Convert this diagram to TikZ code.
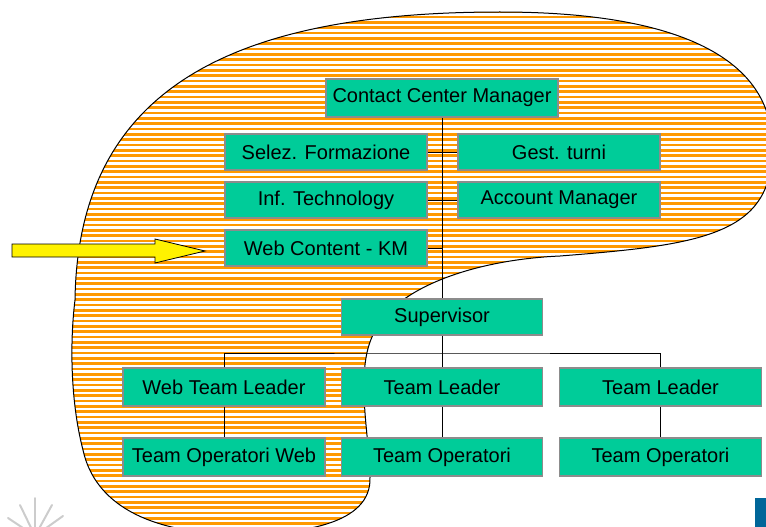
\documentclass[tikz,border=0pt]{standalone}
\usepackage{fontspec}
\setmainfont{Liberation Sans}
\definecolor{boxgreen}{RGB}{0,204,153}
\definecolor{boxgray}{RGB}{140,140,140}
\definecolor{stripe}{RGB}{255,153,0}
\definecolor{logoblue}{RGB}{0,102,153}
\tikzset{
  orgbox/.style={draw=boxgray, line width=1.5pt, fill=boxgreen, inner sep=0pt,
    minimum width=202pt, minimum height=36pt, font=\fontsize{20}{24}\selectfont, text=black},
  tallbox/.style={orgbox, minimum height=38pt},
  link/.style={draw=black, line width=1pt},
}
\begin{document}
\begin{tikzpicture}[x=1pt,y=-1pt]
\useasboundingbox (0,0) rectangle (766,527);
% blob
\def\blob{(75,300) .. controls (78,90) and (230,12) .. (500,12)
  .. controls (700,12) and (775,70) .. (772,150)
  .. controls (772,235) and (700,245) .. (560,256)
  .. controls (470,260) and (390,290) .. (372,337)
  .. controls (355,375) and (370,440) .. (370,477)
  .. controls (372,525) and (300,535) .. (230,534)
  .. controls (150,532) and (95,505) .. (83,450)
  .. controls (70,400) and (70,340) .. (75,300) -- cycle}
\begin{scope}
  \clip \blob;
  \foreach \k in {0,...,102} {
    \draw[stripe, line width=2.6pt] (60,{1+\k*5.3333}) -- (780,{1+\k*5.3333});
  }
\end{scope}
\draw[black, line width=1pt] \blob;
% boxes
\node[orgbox, tallbox, minimum width=232pt] (ccm) at (442,98) {Contact Center Manager};
\node[orgbox] (selez) at (326,152) {Selez. Formazione};
\node[orgbox] (gest) at (559,152) {Gest. turni};
\node[orgbox] (inf) at (326,200) {Inf. Technology};
\node[orgbox] (acc) at (559,200) {Account Manager};
\node[orgbox] (web) at (326,248) {Web Content - KM};
\node[orgbox, minimum width=201pt] (sup) at (442,317) {Supervisor};
\node[tallbox] (tl1) at (224,387) {Web Team Leader};
\node[tallbox, minimum width=201pt] (tl2) at (442,387) {Team Leader};
\node[tallbox] (tl3) at (660.5,387) {Team Leader};
\node[tallbox] (op1) at (224,457) {Team Operatori Web};
\node[tallbox, minimum width=201pt] (op2) at (442,457) {Team Operatori};
\node[tallbox] (op3) at (660.5,457) {Team Operatori};
\coordinate (bus) at (442,353);
% connectors
\draw[link] (ccm.south) -- (sup.north);
\draw[link] (selez.east) -- (gest.west);
\draw[link] (inf.east) -- (acc.west);
\draw[link] (web.east) -- (web.east -| ccm.south);
\draw[link] (sup.south) -- (tl2.north);
\draw[link] (tl1.north) |- (bus) -| (tl3.north);
\draw[link] (tl1.south) -- (op1.north);
\draw[link] (tl2.south) -- (op2.north);
\draw[link] (tl3.south) -- (op3.north);
% arrow
\draw[fill=yellow, draw=black, line width=0.8pt]
  (12,244) -- (155,244) -- (155,239) -- (205,251) -- (155,263) -- (155,257) -- (12,257) -- cycle;
% corner decorations
\foreach \a/\b in {35/498, 8/518, 63/516, 20/505, 52/505} {
  \draw[gray!40, line width=2pt, line cap=round] (35,536) -- (\a,\b);
}
\fill[logoblue] (755,498) rectangle (766,527);
\end{tikzpicture}
\end{document}
